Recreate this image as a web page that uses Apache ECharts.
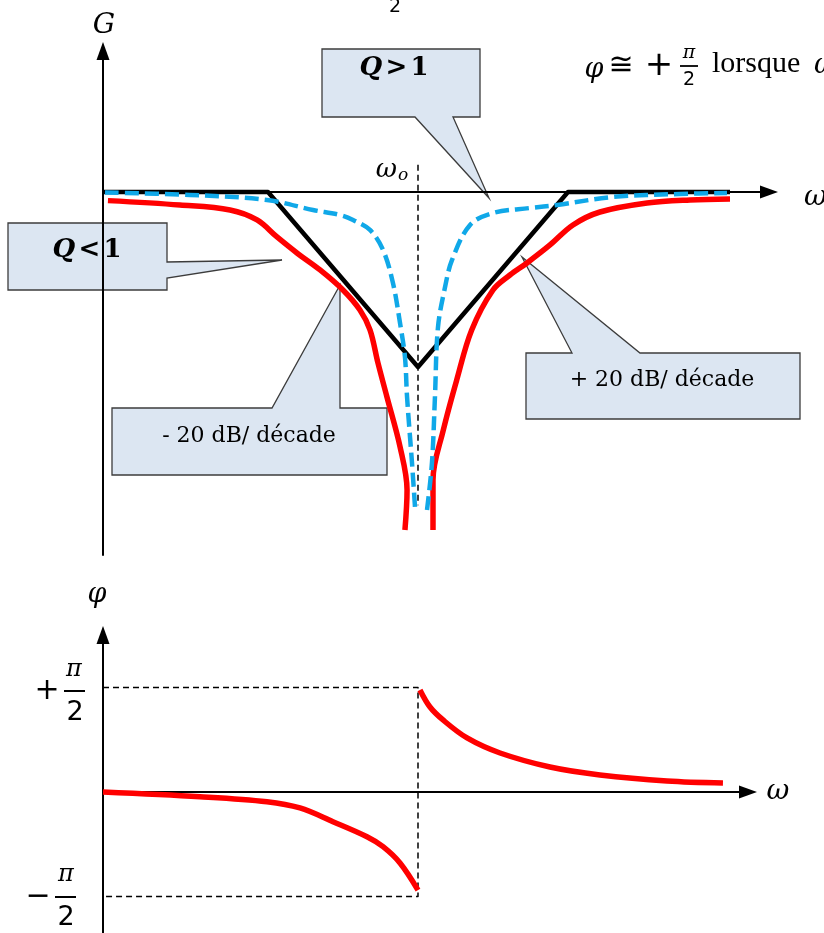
<!DOCTYPE html>
<html>
<head>
<meta charset="utf-8">
<script src="https://cdn.jsdelivr.net/npm/echarts@6/dist/echarts.min.js"></script>
<style>
  html, body { margin: 0; padding: 0; background: #fff; }
  #chart { width: 824px; height: 933px; }
</style>
</head>
<body>
<div id="chart"></div>
<script>
// x values: log10(ω/ω0) in decades; gain in dB; phase in units of π/2

// Gain: asymptotic (Bode) approximation
const gainAsymptote = [[-2.1, 0], [-1, 0], [0, -20], [1, 0], [2.08, 0]];

// Gain for Q > 1 (sharp notch), left and right of ω0
const gainHighQLeft = [
  [-2.087, -0.06], [-1.52, -0.34], [-1.007, -0.91], [-0.70, -2.06], [-0.52, -2.63],
  [-0.433, -3.2], [-0.32, -4.34], [-0.233, -6.63], [-0.167, -10.4], [-0.12, -14.97],
  [-0.087, -18.86], [-0.073, -23.43], [-0.04, -30.97], [-0.02, -36.0]
];
const gainHighQRight = [
  [0.06, -36.34], [0.093, -30.97], [0.113, -23.43], [0.133, -15.5], [0.18, -10.9],
  [0.227, -7.77], [0.347, -3.77], [0.5, -2.4], [0.747, -1.83], [0.927, -1.49],
  [1.3, -0.57], [1.747, -0.23], [2.06, -0.11]
];

// Gain for Q < 1 (wide notch)
const gainLowQLeft = [
  [-2.067, -0.99], [-1.587, -1.49], [-1.253, -2.06], [-1.073, -3.2], [-0.94, -5.14],
  [-0.807, -6.97], [-0.653, -8.91], [-0.5, -11.2], [-0.387, -13.49], [-0.32, -15.77],
  [-0.267, -19.54], [-0.207, -23.43], [-0.12, -29.1], [-0.073, -34.06], [-0.087, -38.63]
];
const gainLowQRight = [
  [0.1, -38.63], [0.1, -32.91], [0.169, -27.2], [0.258, -21.49], [0.358, -15.77],
  [0.5, -11.2], [0.613, -9.49], [0.727, -8.11], [0.88, -6.06], [1.033, -3.77],
  [1.213, -2.29], [1.527, -1.26], [1.813, -0.91], [2.08, -0.8]
];

// ω0 marker on the gain plot
const omega0Marker = [[0, 3.1], [0, -35.8]];

// Phase (units of π/2)
const phaseLeft = [
  [-2.1, 0], [-1.453, -0.045], [-1.007, -0.093], [-0.787, -0.153], [-0.567, -0.284],
  [-0.34, -0.428], [-0.233, -0.523], [-0.12, -0.679], [0, -0.938]
];
const phaseRight = [
  [0.013, 0.976], [0.08, 0.813], [0.167, 0.689], [0.327, 0.517], [0.547, 0.373],
  [0.88, 0.239], [1.213, 0.163], [1.66, 0.105], [2.033, 0.086]
];
// ±π/2 guide lines
const phaseGuides = [[-2.1, 1], [0, 1], [0, -1], [-2.1, -1]];

const RED = '#ff0000';
const BLUE = '#10a8e8';
const FILL = '#dce6f2';
const EDGE = '#3c3c3c';
const SERIF = '"Liberation Serif", serif';
const MATH = '"DejaVu Serif", serif';
const SANS = '"DejaVu Sans", sans-serif';

const chart = echarts.init(document.getElementById('chart'), null, { renderer: 'canvas' });

function arrowAxis(extra, onZero) {
  return Object.assign({
    type: 'value',
    axisLine: {
      show: true,
      onZero: onZero,
      symbol: ['none', 'triangle'],
      symbolSize: [13, 18],
      lineStyle: { color: '#000', width: 2 }
    },
    axisTick: { show: false },
    axisLabel: { show: false },
    splitLine: { show: false }
  }, extra);
}

function curve(data, color, width, xi, dashed, smooth) {
  return {
    type: 'line',
    xAxisIndex: xi, yAxisIndex: xi,
    data: data,
    showSymbol: false,
    smooth: smooth,
    silent: true,
    animation: false,
    lineStyle: { color: color, width: width, type: dashed || 'solid', cap: 'butt', join: 'round' },
    z: 3
  };
}

function callout(points) {
  return {
    type: 'polygon',
    z: -1,
    shape: { points: points },
    style: { fill: FILL, stroke: EDGE, lineWidth: 1.3 }
  };
}

function label(x, y, text, font, extra) {
  return {
    type: 'text', x: x, y: y, z: 10,
    style: Object.assign({
      text: text, fill: '#000', font: font,
      align: 'center', verticalAlign: 'middle'
    }, extra || {})
  };
}

function bar(x1, x2, y, w) {
  return {
    type: 'line', z: 10,
    shape: { x1: x1, y1: y, x2: x2, y2: y },
    style: { stroke: '#000', lineWidth: w || 2 }
  };
}

function inequality(x, y, sign) {
  return {
    type: 'text', x: x, y: y, z: 10,
    style: {
      text: '{q|Q} {t|' + sign + '} {t|1}', align: 'center', verticalAlign: 'middle',
      rich: {
        q: { font: 'italic bold 26px ' + MATH, fill: '#000' },
        t: { font: 'bold 26px ' + MATH, fill: '#000' }
      }
    }
  };
}

chart.setOption({
  animation: false,
  backgroundColor: '#fff',
  grid: [
    { left: 103, top: 51, width: 666, height: 504 },
    { left: 103, top: 635, width: 645, height: 298 }
  ],
  xAxis: [
    arrowAxis({ gridIndex: 0, min: -2.1, max: 2.34 }, true),
    arrowAxis({ gridIndex: 1, min: -2.1, max: 2.2 }, true)
  ],
  yAxis: [
    arrowAxis({ gridIndex: 0, min: -41.49, max: 16.11 }, false),
    arrowAxis({ gridIndex: 1, min: -1.349, max: 1.502 }, false)
  ],
  series: [
    curve(omega0Marker, '#000', 1.5, 0, [6, 4], false),
    curve(gainLowQLeft, RED, 5.5, 0, null, 0.35),
    curve(gainLowQRight, RED, 5.5, 0, null, 0.35),
    curve(gainAsymptote, '#000', 4.5, 0, null, false),
    curve(gainHighQLeft, BLUE, 4.5, 0, [14, 6], 0.35),
    curve(gainHighQRight, BLUE, 4.5, 0, [14, 6], 0.35),
    curve(phaseGuides, '#000', 1.5, 1, [6, 4], false),
    curve(phaseLeft, RED, 5.5, 1, null, 0.35),
    curve(phaseRight, RED, 5.5, 1, null, 0.35)
  ],
  graphic: { elements: [
    // callouts
    callout([[322, 49], [480, 49], [480, 117], [453, 117], [489, 198], [415, 117], [322, 117]]),
    callout([[8, 223], [167, 223], [167, 262], [282, 260], [167, 278], [167, 290], [8, 290]]),
    callout([[112, 408], [272, 408], [340, 285], [340, 408], [387, 408], [387, 475], [112, 475]]),
    callout([[526, 353], [572, 353], [522, 257], [640, 353], [800, 353], [800, 419], [526, 419]]),

    // callout texts
    inequality(394, 68, '>'),
    inequality(87, 250, '<'),
    label(249, 436, '- 20 dB/ décade', '22px ' + MATH),
    label(662, 380, '+ 20 dB/ décade', '22px ' + MATH),

    // gain plot axis names
    label(104, 26, 'G', 'italic 28px ' + MATH),
    label(804, 198, 'ω', 'italic 28px ' + MATH, { align: 'left' }),
    {
      type: 'text', x: 392, y: 170, z: 10,
      style: {
        text: '{w|ω}{o|o}', align: 'center', verticalAlign: 'middle',
        rich: {
          w: { font: 'italic 26px ' + MATH, fill: '#000' },
          o: { font: 'italic 17px ' + MATH, fill: '#000', padding: [12, 0, 0, 1] }
        }
      }
    },

    // note at top right
    label(594, 70, 'φ', 'italic 27px ' + MATH),
    label(621, 66, '≅', '30px ' + SANS),
    label(659, 66, '+', '34px ' + SANS),
    label(689, 53, 'π', 'italic 19px ' + MATH),
    bar(680, 698, 66, 1.8),
    label(689, 80, '2', '19px ' + SANS),
    label(712, 64, 'lorsque', '30px ' + SERIF, { align: 'left' }),
    label(814, 66, 'ω', 'italic 28px ' + MATH, { align: 'left' }),
    label(395, 7, '2', '19px ' + SANS),

    // phase plot axis names
    label(97, 595, 'φ', 'italic 27px ' + MATH),
    label(778, 792, 'ω', 'italic 28px ' + MATH),

    // +π/2 tick label
    label(47, 691, '+', '30px ' + SANS),
    label(74, 670, 'π', 'italic 24px ' + MATH),
    bar(64, 85, 691),
    label(75, 713, '2', '27px ' + SANS),
    // −π/2 tick label
    label(38, 897, '−', '30px ' + SANS),
    label(66, 875, 'π', 'italic 24px ' + MATH),
    bar(55, 76, 897),
    label(66, 918, '2', '27px ' + SANS)
  ] }
});
</script>
</body>
</html>
